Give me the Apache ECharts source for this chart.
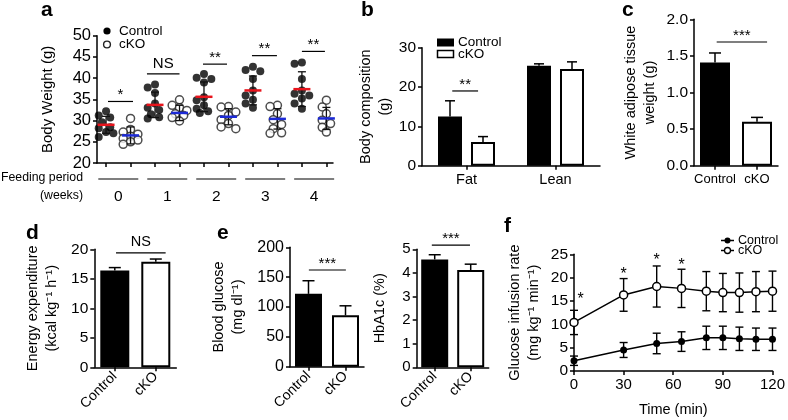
<!DOCTYPE html>
<html><head><meta charset="utf-8">
<script src="https://cdn.jsdelivr.net/npm/echarts@6/dist/echarts.min.js"></script>
<style>html,body{margin:0;padding:0;background:#fff}#c{width:788px;height:420px}</style>
</head><body><div id="c"></div>
<script>
// ---------------- DATA ----------------
// panel a: body weight per mouse (g), feeding period weeks 0..4
const weekLabels = ['0', '1', '2', '3', '4'];
const ctrlWeights = [
  [32.2, 31.2, 30.7, 29.6, 28.4, 28.2, 27.3, 27.0, 26.1],
  [38.5, 37.8, 36.5, 34.0, 33.0, 32.5, 31.5, 30.8, 30.5],
  [41.0, 40.1, 39.8, 39.0, 35.5, 34.8, 33.6, 32.8, 32.2, 31.8],
  [42.7, 41.9, 41.6, 39.8, 37.1, 35.9, 34.9, 34.0, 33.0],
  [43.7, 43.4, 39.8, 37.1, 36.3, 35.9, 35.2, 34.0, 32.8]
];
const ckoWeights = [
  [30.5, 27.9, 27.3, 26.8, 26.3, 25.8, 25.4, 25.0, 24.4],
  [34.9, 33.6, 33.0, 32.4, 31.6, 31.2, 30.7, 29.9],
  [33.3, 33.2, 32.0, 31.2, 30.2, 29.3, 28.5, 28.1],
  [33.6, 33.3, 31.6, 30.2, 29.1, 28.1, 27.1, 27.0],
  [34.8, 33.2, 31.6, 30.1, 29.3, 28.4, 27.8, 27.3]
];
const ctrlWeightMean = [29.0, 33.7, 35.6, 37.1, 37.4];
const ctrlWeightSD   = [2.0, 3.0, 3.5, 3.4, 4.1];
const ckoWeightMean  = [26.5, 31.8, 30.9, 30.4, 30.5];
const ckoWeightSD    = [2.0, 1.8, 1.9, 2.4, 2.6];
const weightSig = ['*', 'NS', '**', '**', '**'];
const weightSigY = [34.5, 41, 43.3, 45.3, 46.3];

// panel b: body composition (g)
const compCats = ['Fat', 'Lean'];
const compCtrl = [12.5, 25.4];
const compCtrlErr = [4.0, 0.5];
const compCko = [6.0, 24.6];
const compCkoErr = [1.4, 1.8];

// panels c, d, e
const genoCats = ['Control', 'cKO'];
const watVals = [1.41, 0.60];
const watErr = [0.13, 0.06];
const eeVals = [16.4, 17.9];
const eeErr = [0.5, 0.45];
const bgVals = [122, 86];
const bgErr = [22, 16];
const hbVals = [4.57, 4.12];
const hbErr = [0.2, 0.25];

// panel f: glucose infusion rate
const timeMin = [0, 30, 50, 65, 80, 90, 100, 110, 120];
const girCtrl = [2.2, 4.5, 5.9, 6.3, 7.1, 7.1, 6.9, 6.8, 6.8];
const girCtrlErr = [1.0, 1.6, 2.2, 2.1, 2.5, 2.5, 2.5, 2.4, 2.4];
const girCko = [10.4, 16.3, 18.1, 17.7, 17.1, 16.8, 16.8, 17.0, 17.1];
const girCkoErr = [2.6, 3.5, 4.4, 4.1, 4.2, 4.1, 4.2, 4.3, 4.3];
const girStarT = [4, 30, 50, 65];
const girStarY = [16.1, 21.6, 24.5, 23.4];

// ---------------- STYLE HELPERS ----------------
const FONT = "'Liberation Sans', Arial, Helvetica, sans-serif";
const BLACK = '#000';
const ts = (size, extra) => Object.assign({ color: BLACK, fontSize: size, fontFamily: FONT }, extra || {});
const axLine = { show: true, onZero: false, lineStyle: { color: BLACK, width: 1.5 } };
const axTick = { show: true, length: 4, lineStyle: { color: BLACK, width: 1.5 } };

function yAxisDef(grid, min, max, interval, name, nameGap, fs, labFs, fmt) {
  return {
    type: 'value', gridIndex: grid, min: min, max: max, interval: interval,
    axisLine: axLine, axisTick: axTick, splitLine: { show: false },
    axisLabel: Object.assign(ts(labFs || 15.5), { margin: 6, formatter: fmt }),
    name: name, nameLocation: 'middle', nameGap: nameGap,
    nameTextStyle: ts(fs || 14.5, { lineHeight: 19 })
  };
}
function catAxisDef(grid, cats, rotate, labFs) {
  return {
    type: 'category', gridIndex: grid, data: cats,
    axisLine: axLine, axisTick: Object.assign({}, axTick, { alignWithLabel: true }),
    axisLabel: Object.assign(ts(labFs || 14), { margin: 7, rotate: rotate || 0, interval: 0 })
  };
}
function hiddenAxis(grid, n) {
  return { type: 'value', gridIndex: grid, min: -0.5, max: n - 0.5, show: false,
    axisLine: { show: false, onZero: false } };
}

// error bar (upward only) for bars; data: [x, value, err]
function upErrRender(offsetPx, cap) {
  return function (params, api) {
    const x = api.value(0), v = api.value(1), e = api.value(2);
    const p0 = api.coord([x, v]);
    const p1 = api.coord([x, v + e]);
    const cx = p0[0] + offsetPx;
    return { type: 'group', children: [
      { type: 'line', shape: { x1: cx, y1: p0[1], x2: cx, y2: p1[1] }, style: { stroke: BLACK, lineWidth: 1.5 } },
      { type: 'line', shape: { x1: cx - cap, y1: p1[1], x2: cx + cap, y2: p1[1] }, style: { stroke: BLACK, lineWidth: 1.5 } }
    ] };
  };
}
// significance bracket; data: [x1, x2, y]
function sigRender(labels, fs) {
  return function (params, api) {
    const a = api.coord([api.value(0), api.value(2)]);
    const b = api.coord([api.value(1), api.value(2)]);
    const lab = labels[params.dataIndex];
    const isStar = lab.indexOf('*') >= 0;
    return { type: 'group', children: [
      { type: 'line', shape: { x1: a[0], y1: a[1], x2: b[0], y2: b[1] }, style: { stroke: BLACK, lineWidth: 1.2 } },
      { type: 'text', x: (a[0] + b[0]) / 2, y: a[1] - (isStar ? -1 : 3),
        style: { text: lab, fill: BLACK, font: (fs || 14) + 'px ' + FONT, textAlign: 'center', textVerticalAlign: 'bottom' } }
    ] };
  };
}

// deterministic beeswarm offsets (layout only)
function beeswarm(vals, center) {
  const placed = [], out = [];
  const cands = [0, -0.17, 0.17, -0.3, 0.3];
  vals.forEach(v => {
    let best = 0, bestD = -1;
    for (const dx of cands) {
      let minD = Infinity;
      for (const p of placed) {
        const d = Math.hypot((dx - p[0]) * 24.5, (v - p[1]) * 4.27);
        if (d < minD) minD = d;
      }
      if (minD >= 7) { best = dx; bestD = minD; break; }
      if (minD > bestD) { bestD = minD; best = dx; }
    }
    placed.push([best, v]);
    out.push([center + best, v]);
  });
  return out;
}

// ---------------- BUILD ----------------
const grids = [
  { left: 97, top: 35.7, width: 236, height: 127.3 },   // a
  { left: 422, top: 47.7, width: 178, height: 118 },    // b
  { left: 694, top: 19.3, width: 84, height: 146.4 },   // c
  { left: 94.3, top: 249.3, width: 82, height: 118 },   // d
  { left: 290, top: 247.3, width: 74, height: 119.4 },  // e1
  { left: 416.7, top: 249.3, width: 72, height: 118 },  // e2
  { left: 574, top: 254.3, width: 202, height: 116.7 }  // f
];

const xAxes = [
  { type: 'value', gridIndex: 0, min: -0.37, max: 9.27, axisLine: axLine,
    axisTick: Object.assign({}, axTick, { customValues: [0,1,2,3,4,5,6,7,8,9] }),
    axisLabel: { show: false }, splitLine: { show: false } },              // 0
  catAxisDef(1, compCats, 0, 14.5), hiddenAxis(1, 2),                     // 1,2
  catAxisDef(2, genoCats, 0, 13), hiddenAxis(2, 2),                       // 3,4
  catAxisDef(3, genoCats, 45, 14), hiddenAxis(3, 2),                      // 5,6
  catAxisDef(4, genoCats, 45, 14), hiddenAxis(4, 2),                      // 7,8
  catAxisDef(5, genoCats, 45, 14), hiddenAxis(5, 2),                      // 9,10
  { type: 'value', gridIndex: 6, min: 0, max: 120, interval: 30, axisLine: axLine, axisTick: axTick,
    axisLabel: Object.assign(ts(15), { margin: 6 }), splitLine: { show: false },
    name: 'Time (min)', nameLocation: 'middle', nameGap: 31, nameTextStyle: ts(14.5) } // 11
];

const yAxes = [
  yAxisDef(0, 20, 50, 5, 'Body Weight (g)', 40, 15, 16.5),
  yAxisDef(1, 0, 30, 10, 'Body composition\n(g)', 25),
  yAxisDef(2, 0, 2, 0.5, 'White adipose tissue\nweight (g)', 35, 14.5, 15.5, v => v.toFixed(1)),
  yAxisDef(3, 0, 20, 5, 'Energy expenditure\n(kcal kg\u207B\u00B9 h\u207B\u00B9)', 33),
  yAxisDef(4, 0, 200, 50, 'Blood glucose\n(mg dl\u207B\u00B9)', 43, 14.5, 16),
  yAxisDef(5, 0, 5, 1, 'HbA1c (%)', 27, 14.5, 15),
  yAxisDef(6, 0, 25, 5, 'Glucose infusion rate\n(mg kg\u207B\u00B9 min\u207B\u00B9)', 31, 14.5, 15.5)
];

const series = [];

// ---- panel a ----
const ctrlPts = [], ckoPts = [];
ctrlWeights.forEach((vals, g) => beeswarm(vals, 2 * g).forEach(p => ctrlPts.push(p)));
ckoWeights.forEach((vals, g) => beeswarm(vals, 2 * g + 1).forEach(p => ckoPts.push(p)));
series.push({ name: 'Control', type: 'scatter', xAxisIndex: 0, yAxisIndex: 0, data: ctrlPts,
  symbol: 'circle', symbolSize: 8, itemStyle: { color: BLACK }, z: 2 });
series.push({ name: 'cKO', type: 'scatter', xAxisIndex: 0, yAxisIndex: 0, data: ckoPts,
  symbol: 'circle', symbolSize: 8, itemStyle: { color: '#fff', borderColor: '#222', borderWidth: 1.5 }, z: 2 });
const meanData = [];
ctrlWeightMean.forEach((m, g) => meanData.push([2 * g, m, ctrlWeightSD[g], 0]));
ckoWeightMean.forEach((m, g) => meanData.push([2 * g + 1, m, ckoWeightSD[g], 1]));
series.push({ type: 'custom', xAxisIndex: 0, yAxisIndex: 0, z: 5, data: meanData, silent: true,
  renderItem: function (params, api) {
    const x = api.value(0), m = api.value(1), sd = api.value(2);
    const col = api.value(3) === 0 ? '#e8141c' : '#1c2ad6';
    const pm = api.coord([x, m]), pt = api.coord([x, m + sd]), pb = api.coord([x, m - sd]);
    const L = (x1, y1, x2, y2, c, w) => ({ type: 'line', shape: { x1, y1, x2, y2 }, style: { stroke: c, lineWidth: w } });
    return { type: 'group', children: [
      L(pm[0], pt[1], pm[0], pb[1], '#111', 1.3),
      L(pm[0] - 4, pt[1], pm[0] + 4, pt[1], '#111', 1.3),
      L(pm[0] - 4, pb[1], pm[0] + 4, pb[1], '#111', 1.3),
      L(pm[0] - 8.5, pm[1], pm[0] + 8.5, pm[1], col, 2.5)
    ] };
  } });
// significance brackets a
series.push({ type: 'custom', xAxisIndex: 0, yAxisIndex: 0, z: 5, silent: true,
  data: [[0.08, 1.1, weightSigY[0]], [1.67, 3.0, weightSigY[1]], [3.96, 4.94, weightSigY[2]],
         [5.96, 6.98, weightSigY[3]], [8.0, 8.94, weightSigY[4]]],
  renderItem: sigRender(weightSig, 15) });
// feeding period group labels below axis
series.push({ type: 'custom', xAxisIndex: 0, yAxisIndex: 0, silent: true, clip: false,
  data: weekLabels.map((w, g) => [2 * g + 0.5, 20]),
  renderItem: function (params, api) {
    const c = api.coord([api.value(0), api.value(1)]);
    return { type: 'group', children: [
      { type: 'line', shape: { x1: c[0] - 20, y1: c[1] + 16, x2: c[0] + 20, y2: c[1] + 16 }, style: { stroke: BLACK, lineWidth: 1.2 } },
      { type: 'text', x: c[0], y: c[1] + 34, style: { text: weekLabels[params.dataIndex], fill: BLACK,
        font: '15.5px ' + FONT, textAlign: 'center', textVerticalAlign: 'middle' } }
    ] };
  } });

// ---- panel b ----
series.push({ name: 'Control', type: 'bar', xAxisIndex: 1, yAxisIndex: 1, data: compCtrl, barWidth: 24, barGap: '37.5%',
  itemStyle: { color: BLACK } });
series.push({ name: 'cKO', type: 'bar', xAxisIndex: 1, yAxisIndex: 1, data: compCko, barWidth: 24,
  itemStyle: { color: '#fff', borderColor: BLACK, borderWidth: 2 } });
series.push({ type: 'custom', xAxisIndex: 1, yAxisIndex: 1, z: 5, silent: true,
  data: compCtrl.map((v, i) => [i, v, compCtrlErr[i]]), renderItem: upErrRender(-16.5, 5) });
series.push({ type: 'custom', xAxisIndex: 1, yAxisIndex: 1, z: 5, silent: true,
  data: compCko.map((v, i) => [i, v, compCkoErr[i]]), renderItem: upErrRender(16.5, 5) });
series.push({ type: 'custom', xAxisIndex: 2, yAxisIndex: 1, z: 5, silent: true,
  data: [[-0.16, 0.13, 19]], renderItem: sigRender(['**'], 15) });

// ---- single-bar panels c, d, e1, e2 ----
function barPanel(xCat, xHid, yIdx, vals, errs, bw, sig, sigLab) {
  series.push({ type: 'bar', xAxisIndex: xCat, yAxisIndex: yIdx, barWidth: bw,
    data: vals.map((v, i) => ({ value: v, itemStyle: i === 0 ? { color: BLACK } : { color: '#fff', borderColor: BLACK, borderWidth: 2 } })) });
  series.push({ type: 'custom', xAxisIndex: xCat, yAxisIndex: yIdx, z: 5, silent: true,
    data: vals.map((v, i) => [i, v, errs[i]]), renderItem: upErrRender(0, 6) });
  series.push({ type: 'custom', xAxisIndex: xHid, yAxisIndex: yIdx, z: 5, silent: true,
    data: [sig], renderItem: sigRender([sigLab], sigLab === 'NS' ? 14.5 : 15) });
}
barPanel(3, 4, 2, watVals, watErr, 30, [0.04, 1.24, 1.69], '***');
barPanel(5, 6, 3, eeVals, eeErr, 29, [0.03, 1.24, 19.4], 'NS');
barPanel(7, 8, 4, bgVals, bgErr, 27, [0.01, 1.01, 162], '***');
barPanel(9, 10, 5, hbVals, hbErr, 27, [-0.08, 0.98, 5.18], '***');

// ---- panel f ----
function bothErrRender(cap) {
  return function (params, api) {
    const x = api.value(0), v = api.value(1), e = api.value(2);
    const pt = api.coord([x, v + e]), pb = api.coord([x, v - e]);
    const L = (x1, y1, x2, y2) => ({ type: 'line', shape: { x1, y1, x2, y2 }, style: { stroke: BLACK, lineWidth: 1.4 } });
    return { type: 'group', children: [ L(pt[0], pt[1], pb[0], pb[1]), L(pt[0] - cap, pt[1], pt[0] + cap, pt[1]), L(pb[0] - cap, pb[1], pb[0] + cap, pb[1]) ] };
  };
}
series.push({ type: 'custom', xAxisIndex: 11, yAxisIndex: 6, z: 1, silent: true,
  data: timeMin.map((t, i) => [t, girCtrl[i], girCtrlErr[i]]), renderItem: bothErrRender(4) });
series.push({ type: 'custom', xAxisIndex: 11, yAxisIndex: 6, z: 1, silent: true,
  data: timeMin.map((t, i) => [t, girCko[i], girCkoErr[i]]), renderItem: bothErrRender(4) });
series.push({ name: 'Control', type: 'line', xAxisIndex: 11, yAxisIndex: 6, z: 3,
  data: timeMin.map((t, i) => [t, girCtrl[i]]), symbol: 'circle', symbolSize: 7,
  lineStyle: { color: BLACK, width: 1.5 }, itemStyle: { color: BLACK } });
series.push({ name: 'cKO', type: 'line', xAxisIndex: 11, yAxisIndex: 6, z: 3,
  data: timeMin.map((t, i) => [t, girCko[i]]), symbol: 'circle', symbolSize: 8,
  lineStyle: { color: BLACK, width: 1.5 }, itemStyle: { color: '#fff', borderColor: BLACK, borderWidth: 1.5 } });
series.push({ type: 'custom', xAxisIndex: 11, yAxisIndex: 6, z: 4, silent: true, clip: false,
  data: girStarT.map((t, i) => [t, girStarY[i]]),
  renderItem: function (params, api) {
    const p = api.coord([api.value(0), api.value(1)]);
    return { type: 'text', x: p[0], y: p[1] + 4, style: { text: '*', fill: BLACK, font: '16px ' + FONT, textAlign: 'center', textVerticalAlign: 'middle' } };
  } });

// ---------------- GRAPHIC TEXT (panel letters, legends) ----------------
const letter = (t, x, y) => ({ type: 'text', x: x, y: y, style: { text: t, fill: BLACK, font: 'bold 21px ' + FONT, textAlign: 'left', textVerticalAlign: 'middle' } });
const label = (t, x, y, fs, align) => ({ type: 'text', x: x, y: y, style: { text: t, fill: BLACK, font: fs + 'px ' + FONT, textAlign: align || 'left', textVerticalAlign: 'middle' } });
const graphic = [
  letter('a', 41, 10), letter('b', 361, 10), letter('c', 622, 10),
  letter('d', 26, 233), letter('e', 217, 233), letter('f', 504, 226),
  // panel a legend
  { type: 'circle', shape: { cx: 107, cy: 31, r: 3.6 }, style: { fill: BLACK } },
  label('Control', 119, 31, 13.5),
  { type: 'circle', shape: { cx: 107, cy: 44.5, r: 3.4 }, style: { fill: '#fff', stroke: '#222', lineWidth: 1.4 } },
  label('cKO', 119, 44.5, 13.5),
  label('Feeding period', 83, 178, 12.3, 'right'),
  label('(weeks)', 83, 196, 12.3, 'right'),
  // panel b legend
  { type: 'rect', shape: { x: 437, y: 38.5, width: 17, height: 8 }, style: { fill: BLACK } },
  label('Control', 458, 42.5, 13.5),
  { type: 'rect', shape: { x: 437.5, y: 50.5, width: 16, height: 7 }, style: { fill: '#fff', stroke: BLACK, lineWidth: 1.5 } },
  label('cKO', 458, 54, 13.5),
  // panel f legend
  { type: 'line', shape: { x1: 721, y1: 240.5, x2: 734, y2: 240.5 }, style: { stroke: BLACK, lineWidth: 1.5 } },
  { type: 'circle', shape: { cx: 727.5, cy: 240.5, r: 3 }, style: { fill: BLACK } },
  label('Control', 738, 240.5, 12.5),
  { type: 'line', shape: { x1: 721, y1: 250.5, x2: 734, y2: 250.5 }, style: { stroke: BLACK, lineWidth: 1.5 } },
  { type: 'circle', shape: { cx: 727.5, cy: 250.5, r: 3 }, style: { fill: '#fff', stroke: BLACK, lineWidth: 1.3 } },
  label('cKO', 738, 250.5, 12.5)
];

const chart = echarts.init(document.getElementById('c'), null, { renderer: 'canvas' });
chart.setOption({
  animation: false,
  backgroundColor: '#fff',
  textStyle: { fontFamily: FONT, color: BLACK },
  grid: grids,
  xAxis: xAxes,
  yAxis: yAxes,
  series: series,
  graphic: graphic
});
</script>
</body></html>
